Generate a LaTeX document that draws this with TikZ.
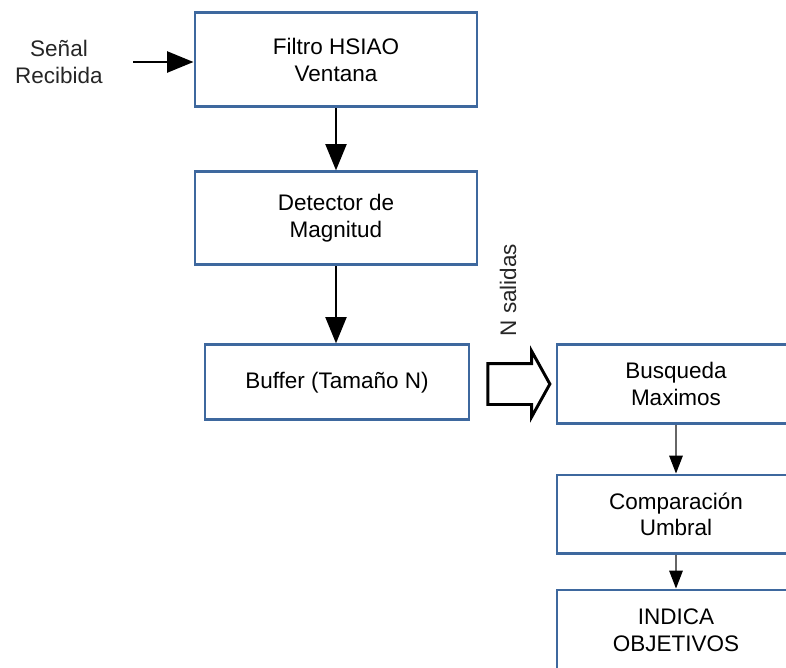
\documentclass[tikz,border=0pt]{standalone}
\usepackage{fontspec}
\setmainfont{Liberation Sans}
\usetikzlibrary{arrows.meta,shapes.arrows}
\definecolor{boxblue}{RGB}{62,104,158}
\begin{document}
\begin{tikzpicture}[
  font=\fontsize{16}{19}\selectfont, line width=2.1pt,
    box/.style={draw=boxblue, minimum width=7.05cm, minimum height=2.35cm,
                align=center, fill=white},
    rbox/.style={draw=boxblue, minimum width=5.95cm, minimum height=1.97cm,
                align=center, fill=white},
    lbl/.style={align=center, text=black!85},
    bigarr/.style={-{Triangle[length=0.66cm,width=0.52cm]}, line width=2.1pt},
    smallarr/.style={-{Triangle[length=0.45cm,width=0.34cm,color=black,fill=black]},
                draw=black!60, line width=1pt},
    fat/.style={single arrow, draw=black, fill=white, line width=2.1pt,
                minimum height=1.55cm, inner xsep=0pt, inner ysep=0.475cm,
                single arrow head extend=0.31cm, single arrow tip angle=122},
]
\clip (0,0) rectangle (19.65,-16.675);
\node[lbl] (sen) at (1.475,-1.55) {Señal\\Recibida};
\coordinate (in) at (3.325,-1.55);
\node[box] (filtro) at (8.4,-1.49) {Filtro HSIAO\\Ventana};
\node[box, minimum height=2.325cm] (det) at (8.4,-5.46) {Detector de\\Magnitud};
\node[box, minimum width=6.6cm, minimum height=1.875cm] (buf) at (8.425,-9.56) {Buffer (Tamaño N)};
\node[rbox] (busq) at (16.9,-9.6) {Busqueda\\Maximos};
\node[rbox] (comp) at (16.9,-12.86) {Comparación\\Umbral};
\node[rbox, minimum height=2cm] (ind) at (16.9,-15.75) {INDICA\\OBJETIVOS};
\node[lbl, rotate=90] (nsal) at (12.7,-7.25) {N salidas};
\node[fat] (flecha) at (12.83,-9.6) {};
\draw[bigarr] (in) -- (filtro.west |- in);
\draw[bigarr] (filtro) -- (det);
\draw[bigarr] (det.south) -- (det.south |- buf.north);
\draw[smallarr] (busq) -- (comp);
\draw[smallarr] (comp) -- (ind);
\end{tikzpicture}
\end{document}
